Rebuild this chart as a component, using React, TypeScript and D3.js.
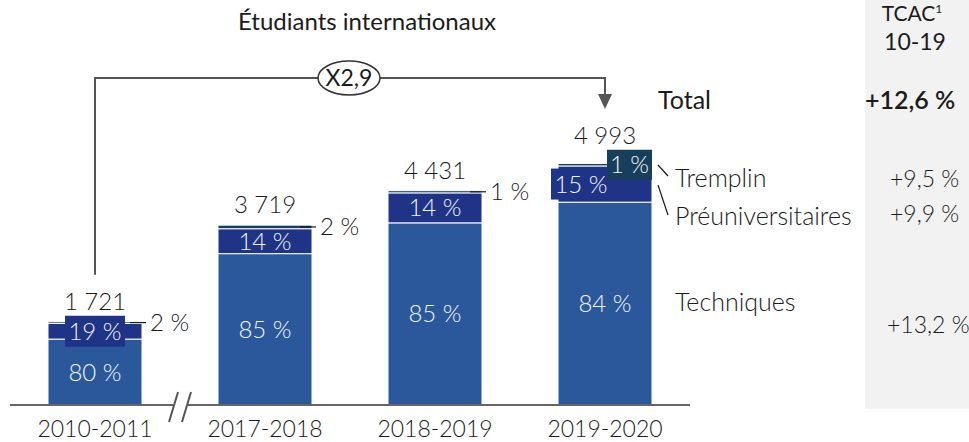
import React from "react";
import * as d3 from "d3";

const categories = ["2010-2011", "2017-2018", "2018-2019", "2019-2020"];
const totals = [1721, 3719, 4431, 4993];
const totalLabels = ["1 721", "3 719", "4 431", "4 993"];
const techniquesPct = [80, 85, 85, 84];
const preunivPct = [19, 14, 14, 15];
const tremplinPct = [2, 2, 1, 1];
const seriesKeys = ["techniques", "preuniv", "tremplin"];
const seriesNames = ["Techniques", "Préuniversitaires", "Tremplin"];
const cagrSeries = ["+13,2 %", "+9,9 %", "+9,5 %"];
const cagrTotal = "+12,6 %";
const growthLabel = "X2,9";
const title = "Étudiants internationaux";

const W = 969;
const H = 442;
const FONT = "Lato, 'Open Sans', sans-serif";
const COLORS: Record<string, string> = {
  techniques: "#2a589b",
  preuniv: "#1f3487",
  tremplin: "#173f5c",
};
const TEXT = "#1b1b1b";

// styling of label placement per bar
const preBoxed = [true, false, false, true];
const preDx = [0, 0, 0, -24];
const tremBoxed = [false, false, false, true];

export default function App() {
  const baseY = 405;
  const x = d3
    .scaleBand<string>()
    .domain(categories)
    .range([10, 690])
    .paddingInner(76 / 170)
    .paddingOuter(38 / 170);
  const y = d3.scaleLinear().domain([0, 5000]).range([baseY, baseY - 241.8]);

  const rows = categories.map((c, i) => {
    const s = techniquesPct[i] + preunivPct[i] + tremplinPct[i];
    return {
      cat: c,
      techniques: (totals[i] * techniquesPct[i]) / s,
      preuniv: (totals[i] * preunivPct[i]) / s,
      tremplin: (totals[i] * tremplinPct[i]) / s,
    };
  });
  const stacked = d3.stack<any>().keys(seriesKeys)(rows);

  const bw = x.bandwidth();
  const cx = (c: string) => (x(c) as number) + bw / 2;
  const xl = cx(categories[0]);
  const xr = cx(categories[3]);
  const bracketY = 78;
  const LF = 24; // label font size

  return (
    <svg
      width={W}
      height={H}
      style={{ position: "absolute", left: 0, top: 0, display: "block", background: "#fff" }}
      fontFamily={FONT}
    >
      {/* TCAC panel */}
      <rect x={865} y={0} width={W - 865} height={409} fill="#f2f2f2" />
      <text x={912} y={21} textAnchor="middle" fontSize={21} fill={TEXT}>
        TCAC<tspan fontSize={12} dy={-8}>1</tspan>
      </text>
      <text x={915} y={50} textAnchor="middle" fontSize={23} fill={TEXT}>
        10-19
      </text>
      <text x={865} y={109} fontSize={25} fontWeight={600} fill={TEXT}>
        {cagrTotal}
      </text>
      <text x={890} y={187} fontSize={23} fontWeight={300} fill={TEXT}>
        {cagrSeries[2]}
      </text>
      <text x={890} y={222} fontSize={23} fontWeight={300} fill={TEXT}>
        {cagrSeries[1]}
      </text>
      <text x={887} y={333} fontSize={23} fontWeight={300} fill={TEXT}>
        {cagrSeries[0]}
      </text>

      {/* title */}
      <text x={367} y={30} textAnchor="middle" fontSize={24} fill={TEXT}>
        {title}
      </text>

      {/* growth bracket */}
      <path
        d={`M${xl},${y(totals[0]) - 47} V${bracketY} H${xr} V${bracketY + 18}`}
        fill="none"
        stroke="#555"
        strokeWidth={2}
      />
      <path d={`M${xr - 7},${bracketY + 16} L${xr + 7},${bracketY + 16} L${xr},${bracketY + 31} Z`} fill="#555" />
      <ellipse cx={349} cy={bracketY} rx={31} ry={17} fill="#fff" stroke="#333" strokeWidth={1.5} />
      <text x={349} y={bracketY + 8} textAnchor="middle" fontSize={23} fill={TEXT}>
        {growthLabel}
      </text>

      {/* bars */}
      {stacked.map((layer) => (
        <g key={layer.key}>
          {layer.map((d, i) => (
            <rect
              key={i}
              x={x(categories[i])}
              y={y(d[1])}
              width={bw}
              height={y(d[0]) - y(d[1])}
              fill={COLORS[layer.key]}
              stroke="#fff"
              strokeWidth={1}
            />
          ))}
        </g>
      ))}

      {/* segment labels */}
      {categories.map((c, i) => {
        const t = stacked[0][i];
        const p = stacked[1][i];
        const tr = stacked[2][i];
        const right = (x(c) as number) + bw;
        const tY = (y(t[0]) + y(t[1])) / 2;
        const pY = (y(p[0]) + y(p[1])) / 2;
        const trY = (y(tr[0]) + y(tr[1])) / 2;
        const pCx = cx(c) + preDx[i];
        const trCx = right - 22.5;
        const boxTop = tremBoxed[i] ? trY - 15 : preBoxed[i] ? pY - 15.5 : y(tr[1]);
        const labelY = Math.min(y(tr[1]) - 12, boxTop - 6);
        return (
          <g key={c}>
            <text x={cx(c)} y={tY + 8.5} textAnchor="middle" fontSize={LF} fontWeight={300} fill="#f2f5fb">
              {techniquesPct[i]} %
            </text>
            {preBoxed[i] && (
              <rect x={pCx - 30} y={pY - 15.5} width={60} height={31} fill={COLORS.preuniv} />
            )}
            <text x={pCx} y={pY + 8.5} textAnchor="middle" fontSize={LF} fontWeight={300} fill="#f2f5fb">
              {preunivPct[i]} %
            </text>
            {tremBoxed[i] ? (
              <g>
                <rect x={trCx - 22.5} y={trY - 15} width={45} height={30} fill={COLORS.tremplin} />
                <text x={trCx} y={trY + 8.5} textAnchor="middle" fontSize={LF} fontWeight={300} fill="#f2f5fb">
                  {tremplinPct[i]} %
                </text>
              </g>
            ) : (
              <g>
                <line x1={right - 12} x2={right + 4} y1={trY} y2={trY} stroke={TEXT} strokeWidth={1.2} />
                <text x={right + 8} y={trY + 8.5} fontSize={LF} fontWeight={300} fill={TEXT}>
                  {tremplinPct[i]} %
                </text>
              </g>
            )}
            <text x={cx(c)} y={labelY} textAnchor="middle" fontSize={LF} fontWeight={300} fill={TEXT}>
              {totalLabels[i]}
            </text>
          </g>
        );
      })}

      {/* legend on the right */}
      <text x={658} y={109} fontSize={25} fill={TEXT}>
        Total
      </text>
      <line x1={658} y1={165} x2={668} y2={176} stroke={TEXT} strokeWidth={1.2} />
      <text x={675} y={187} fontSize={25} fontWeight={300} fill={TEXT}>
        {seriesNames[2]}
      </text>
      <line x1={658} y1={185} x2={668} y2={215} stroke={TEXT} strokeWidth={1.2} />
      <text x={675} y={225} fontSize={25} fontWeight={300} fill={TEXT}>
        {seriesNames[1]}
      </text>
      <text x={675} y={311} fontSize={25} fontWeight={300} fill={TEXT}>
        {seriesNames[0]}
      </text>

      {/* x axis with break */}
      <line x1={10} x2={173} y1={baseY} y2={baseY} stroke="#666" strokeWidth={2} />
      <line x1={187} x2={690} y1={baseY} y2={baseY} stroke="#666" strokeWidth={2} />
      <line x1={169} y1={422} x2={178} y2={392} stroke="#555" strokeWidth={2} />
      <line x1={182} y1={422} x2={191} y2={392} stroke="#555" strokeWidth={2} />
      {categories.map((c) => (
        <text key={c} x={cx(c)} y={437} textAnchor="middle" fontSize={23} fontWeight={300} fill={TEXT}>
          {c}
        </text>
      ))}
    </svg>
  );
}
